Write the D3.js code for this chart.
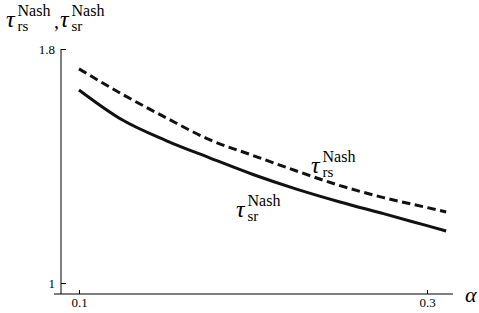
<!DOCTYPE html>
<html>
<head>
<meta charset="utf-8">
<script src="https://cdn.jsdelivr.net/npm/d3@7"></script>
<style>
  body { margin: 0; background: #fff; }
  svg text { font-family: "Times New Roman", "Liberation Serif", Times, serif !important; }
</style>
</head>
<body>
<svg id="chart" width="479" height="313"></svg>
<script>
// values
const alpha = [0.1, 0.125, 0.15, 0.175, 0.2, 0.225, 0.25, 0.275, 0.3, 0.311];
const tauRs = [1.732, 1.645, 1.565, 1.49, 1.436, 1.383, 1.333, 1.292, 1.258, 1.243];
const tauSr = [1.660, 1.557, 1.487, 1.428, 1.371, 1.321, 1.277, 1.237, 1.196, 1.178];
const xTicks = [0.1, 0.3];
const yTicks = [1, 1.8];

const svg = d3.select('#chart');

const x = d3.scaleLinear().domain([0.1, 0.3]).range([79, 427]);
const y = d3.scaleLinear().domain([1, 1.8]).range([283, 49]);

const x0 = x.invert(54), x1 = x.invert(453);
const y0 = y.invert(294);

// axes
const xAxis = d3.axisBottom(x).tickValues(xTicks).tickSize(-4).tickPadding(3)
    .tickFormat(d3.format('.1f'));
const gx = svg.append('g')
    .attr('transform', `translate(0,${y(y0)})`)
    .call(xAxis);
gx.select('.domain').attr('d', `M${x(x0)},0H${x(x1)}`);

const yAxis = d3.axisLeft(y).tickValues(yTicks).tickSize(-5).tickPadding(6)
    .tickFormat(d => d === 1 ? '1' : d3.format('.1f')(d));
const gy = svg.append('g')
    .attr('transform', `translate(${x(x0) + 7},0)`)
    .call(yAxis);
gy.select('.domain').attr('d', `M0,${y(1.8)}V${y(y0)}`);

svg.selectAll('.tick text').attr('font-size', 13);
svg.selectAll('.domain, .tick line').attr('stroke', '#000').attr('stroke-width', 1);
gx.selectAll('.tick text').attr('y', 3).attr('dy', '0.75em');

// curves
const line = d3.line()
    .x((d, i) => x(alpha[i]))
    .y(d => y(d))
    .curve(d3.curveMonotoneX);

svg.append('path')
    .datum(tauRs)
    .attr('d', line)
    .attr('fill', 'none')
    .attr('stroke', '#111')
    .attr('stroke-width', 3)
    .attr('stroke-dasharray', '8.5,4.5');

svg.append('path')
    .datum(tauSr)
    .attr('d', line)
    .attr('fill', 'none')
    .attr('stroke', '#111')
    .attr('stroke-width', 3);

// tau labels with super/subscripts
function tauLabel(px, py, sub) {
    const g = svg.append('g');
    g.append('text').attr('x', px).attr('y', py)
        .attr('font-size', 24).attr('font-style', 'italic').text('τ');
    g.append('text').attr('x', px + 11.5).attr('y', py - 11)
        .attr('font-size', 16).text('Nash');
    g.append('text').attr('x', px + 11.5).attr('y', py + 3.5)
        .attr('font-size', 15).text(sub);
}

tauLabel(6, 27, 'rs');
svg.append('text').attr('x', 54).attr('y', 28).attr('font-size', 20).text(',');
tauLabel(60, 27, 'sr');

tauLabel(311, 173, 'rs');
tauLabel(236, 217, 'sr');

svg.append('text').attr('x', 465).attr('y', 302)
    .attr('font-size', 22).attr('font-style', 'italic').text('α');
</script>
</body>
</html>
